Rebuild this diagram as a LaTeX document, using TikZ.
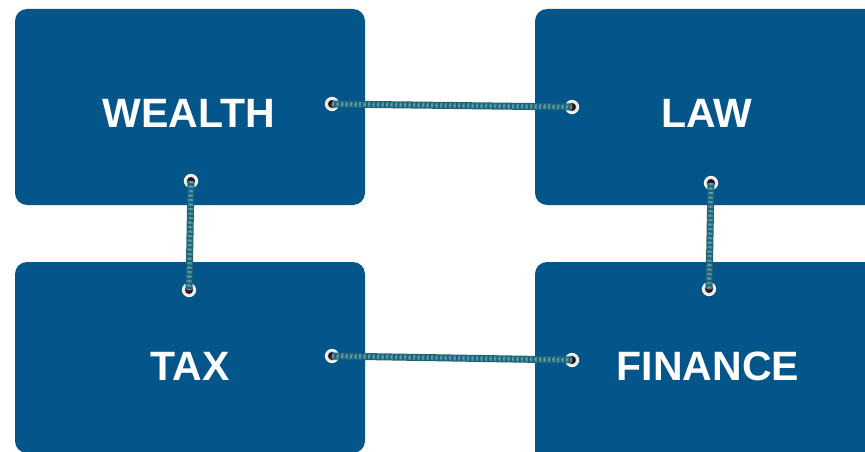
\documentclass[tikz,border=0pt]{standalone}
\usepackage{fontspec}
\setmainfont{Liberation Sans}
\begin{document}
\begin{tikzpicture}[x=1pt,y=-1pt,
  label/.style={text=white, font=\fontsize{41}{48}\selectfont\bfseries, inner sep=0pt},
  grommet/.style={circle, minimum size=13pt, inner sep=0pt, fill=gray!20, draw=white, line width=1.2pt},
  ropebase/.style={line width=7pt, draw=ropedark},
  ropestrand/.style={line width=5pt, draw=ropelight, dash pattern=on 2.5pt off 2pt},
]
\definecolor{boxblue}{RGB}{3,85,138}
\definecolor{ropedark}{RGB}{32,95,115}
\definecolor{ropelight}{RGB}{62,140,160}
\definecolor{holedark}{RGB}{40,20,25}
\useasboundingbox (0,0) rectangle (865,452);
\begin{scope}
\clip (0,0) rectangle (865,452);
\fill[boxblue, rounded corners=12pt] (15,9) rectangle (365,205);
\fill[boxblue, rounded corners=12pt] (535,9) rectangle (885,205);
\fill[boxblue, rounded corners=12pt] (15,262) rectangle (365,453);
\fill[boxblue, rounded corners=12pt] (535,262) rectangle (885,470);
\end{scope}
\node[label] (wealth) at (189,113) {WEALTH};
\node[label] (law) at (707,113) {LAW};
\node[label] (tax) at (190,366) {TAX};
\node[label] (finance) at (708,366) {FINANCE};
% grommets
\foreach \n/\p in {g1/{(332,104)}, g2/{(572,107)}, g3/{(191,181)}, g4/{(189,290)}, g5/{(332,356)}, g6/{(572,360)}, g7/{(711,183)}, g8/{(709,289)}}{
  \node[grommet] (\n) at \p {};
  \fill[holedark] (\n.center) circle (4pt);
  \fill[red!60!black] ([xshift=-1pt,yshift=-1.2pt]\n.center) circle (1.6pt);
}
% ropes
\foreach \a/\b in {g1/g2, g3/g4, g5/g6, g7/g8}{
  \draw[ropebase] (\a.center) -- (\b.center);
  \draw[ropestrand] (\a.center) -- (\b.center);
  \draw[line width=1.5pt, draw=ropelight!55!white, dash pattern=on 1.5pt off 3pt, opacity=0.5] (\a.center) -- (\b.center);
}
\end{tikzpicture}
\end{document}
